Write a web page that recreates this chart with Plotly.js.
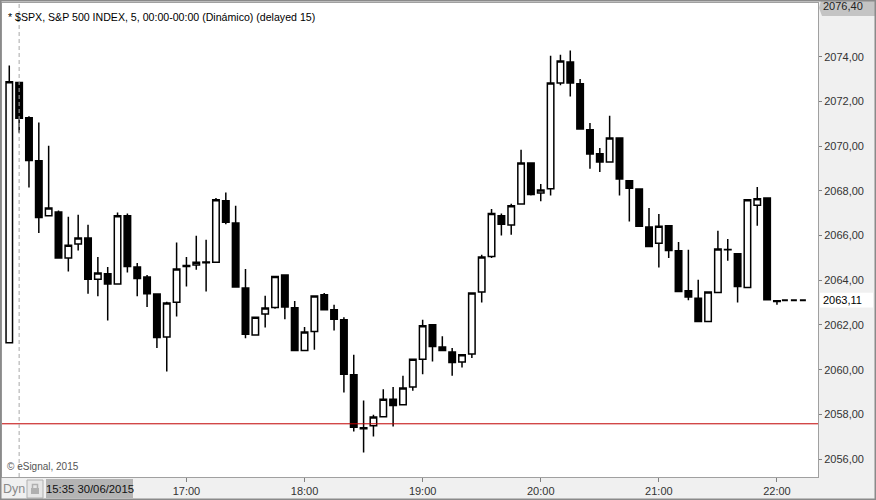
<!DOCTYPE html>
<html>
<head>
<meta charset="utf-8">
<script src="https://cdn.plot.ly/plotly-3.0.1.min.js"></script>
<style>html,body{margin:0;padding:0;background:#f0f0f0;}#chart{width:876px;height:500px;}</style>
</head>
<body>
<div id="chart"></div>
<script>
// ---- data (5-minute bars, 30/06/2015) ----
const day = '2015-06-30 ';
const times = ['15:30','15:35','15:40','15:45','15:50','15:55','16:00','16:05','16:10','16:15',
  '16:20','16:25','16:30','16:35','16:40','16:45','16:50','16:55','17:00','17:05',
  '17:10','17:15','17:20','17:25','17:30','17:35','17:40','17:45','17:50','17:55',
  '18:00','18:05','18:10','18:15','18:20','18:25','18:30','18:35','18:40','18:45',
  '18:50','18:55','19:00','19:05','19:10','19:15','19:20','19:25','19:30','19:35',
  '19:40','19:45','19:50','19:55','20:00','20:05','20:10','20:15','20:20','20:25',
  '20:30','20:35','20:40','20:45','20:50','20:55','21:00','21:05','21:10','21:15',
  '21:20','21:25','21:30','21:35','21:40','21:45','21:50','21:55','22:00'];
const open = [2061.20,2072.84,2071.27,2069.35,2066.89,2067.05,2064.99,2065.62,2065.89,2064.05,
  2064.29,2063.83,2066.89,2064.59,2064.14,2063.38,2061.46,2063.02,2064.66,2064.68,
  2064.82,2064.80,2067.56,2066.56,2063.65,2061.55,2062.49,2062.78,2064.23,2062.77,
  2060.86,2061.71,2063.35,2062.68,2062.23,2059.77,2057.40,2057.49,2057.89,2058.68,
  2058.43,2059.22,2060.47,2062.01,2061.01,2060.79,2060.34,2060.70,2063.47,2065.06,
  2066.89,2066.47,2067.41,2069.24,2067.90,2068.09,2072.82,2073.76,2072.79,2070.73,
  2069.66,2069.29,2070.36,2068.45,2068.08,2066.38,2065.66,2066.44,2065.32,2063.53,
  2063.20,2062.16,2063.45,2065.38,2065.19,2063.68,2067.35,2067.68,2063.08];
const high = [2073.60,2072.88,2071.33,2071.06,2070.02,2067.12,2066.84,2066.93,2066.48,2065.04,
  2064.59,2067.03,2066.99,2064.77,2064.23,2063.40,2063.04,2065.69,2065.04,2065.99,
  2065.81,2067.68,2067.93,2067.33,2064.50,2062.35,2063.31,2064.20,2064.27,2063.07,
  2061.91,2063.31,2063.43,2062.90,2062.35,2060.67,2058.62,2057.98,2059.13,2059.22,
  2059.73,2060.49,2062.23,2062.03,2061.49,2060.97,2060.70,2063.45,2065.14,2067.19,
  2066.99,2067.42,2069.84,2069.26,2068.30,2074.04,2074.09,2074.27,2073.00,2071.03,
  2069.92,2071.36,2070.38,2068.47,2068.10,2067.23,2066.96,2066.46,2065.71,2065.36,
  2064.02,2063.47,2066.21,2065.84,2065.21,2067.60,2068.17,2067.68,2063.08];
const low = [2061.20,2070.60,2068.15,2066.11,2066.85,2064.97,2064.39,2065.33,2063.40,2063.28,
  2062.20,2063.80,2064.35,2063.28,2062.80,2060.97,2059.92,2062.38,2063.72,2064.47,
  2063.50,2064.78,2066.51,2063.68,2061.41,2061.55,2061.89,2062.72,2062.26,2060.84,
  2060.84,2060.89,2062.65,2061.75,2058.98,2057.23,2056.30,2057.01,2057.87,2057.46,
  2058.41,2059.06,2059.80,2060.37,2060.84,2059.73,2060.10,2060.52,2063.01,2064.99,
  2066.00,2066.04,2067.39,2067.79,2067.53,2067.79,2072.72,2072.22,2070.75,2068.99,
  2068.84,2069.27,2067.79,2066.63,2066.38,2065.49,2064.57,2064.99,2063.48,2063.10,
  2062.14,2062.14,2063.43,2064.87,2063.01,2063.66,2066.44,2063.13,2062.90];
const close = [2072.88,2071.24,2069.36,2066.81,2067.23,2065.00,2065.57,2065.89,2064.05,2064.32,
  2063.83,2066.89,2064.62,2064.08,2063.40,2061.44,2062.98,2064.50,2064.62,2064.80,
  2064.78,2067.60,2066.59,2063.70,2061.59,2062.35,2062.76,2064.17,2062.80,2060.86,
  2061.68,2063.29,2062.68,2062.26,2059.80,2057.43,2057.36,2057.88,2058.68,2058.40,
  2059.18,2060.47,2061.96,2061.04,2060.86,2060.32,2060.67,2063.43,2065.04,2066.98,
  2066.51,2067.33,2069.24,2067.83,2068.04,2072.82,2073.81,2072.82,2070.77,2069.65,
  2069.29,2070.36,2068.53,2068.12,2066.41,2065.51,2066.41,2065.33,2063.50,2063.25,
  2062.16,2063.47,2065.40,2065.36,2063.72,2067.60,2067.65,2063.13,2063.05];
const yTickVals = [2056,2058,2060,2062,2064,2066,2068,2070,2072,2074];
const yTickText = ['2056,00','2058,00','2060,00','2062,00','2064,00','2066,00','2068,00','2070,00','2072,00','2074,00'];
const xTickHours = ['17:00','18:00','19:00','20:00','21:00','22:00'];
const lastPrice = 2063.11, lastPriceText = '2063,11';
const axisMax = 2076.40, axisMaxText = '2076,40';
const refLevel = 2057.58;
const cursorTime = '15:35', cursorLabel = '15:35 30/06/2015';
const titleText = '* $SPX, S&P 500 INDEX, 5, 00:00-00:00 (Dinámico) (delayed 15)';

// ---- chart ----
const FONT = 'Liberation Sans, Arial, sans-serif';
const x = times.map(t => day + t);
const W = 876, H = 500, M = {l: 2, r: 58, t: 3, b: 23};
const pw = W - M.l - M.r, ph = H - M.t - M.b;
const px = v => v / pw, py = v => v / ph;   // pixel -> paper fraction

const trace = {
  type: 'candlestick', x: x, open: open, high: high, low: low, close: close,
  increasing: {line: {color: '#000', width: 1.5}, fillcolor: '#ffffff'},
  decreasing: {line: {color: '#000', width: 1.5}, fillcolor: '#000000'},
  whiskerwidth: 0, hoverinfo: 'none', showlegend: false
};

const layout = {
  width: W, height: H, margin: M,
  paper_bgcolor: '#f0f0f0', plot_bgcolor: '#ffffff',
  showlegend: false, boxgap: 0.34, boxgroupgap: 0,
  font: {family: FONT, size: 11, color: '#333'},
  xaxis: {
    type: 'date', range: [day + '15:26:18', day + '22:20:51'],
    rangeslider: {visible: false},
    tickmode: 'array', tickvals: xTickHours.map(t => day + t), ticktext: xTickHours,
    ticks: 'outside', ticklen: 4, tickcolor: '#808080', tickwidth: 1,
    showgrid: false, zeroline: false, showline: true, linecolor: '#a0a0a0', linewidth: 1, mirror: true,
    tickfont: {family: FONT, size: 11, color: '#333'}, fixedrange: true
  },
  yaxis: {
    side: 'right', range: [2055.2, axisMax],
    tickmode: 'array', tickvals: yTickVals, ticktext: yTickText,
    ticks: 'outside', ticklen: 3, tickcolor: '#808080', tickwidth: 1,
    showgrid: false, zeroline: false, showline: true, linecolor: '#a0a0a0', linewidth: 1, mirror: true,
    tickfont: {family: FONT, size: 11, color: '#333'}, fixedrange: true
  },
  shapes: [
    // reference level (red)
    {type: 'line', xref: 'paper', yref: 'y', x0: 0, x1: 1, y0: refLevel, y1: refLevel,
     line: {color: '#c00000', width: 1}},
    // cursor line
    {type: 'line', xref: 'x', yref: 'paper', x0: day + cursorTime, x1: day + cursorTime, y0: 0, y1: 1,
     line: {color: '#a8a8a8', width: 1, dash: '4px,3px'}},
    // last price line
    {type: 'line', xref: 'x', yref: 'y', x0: day + '22:02:30', x1: day + '22:16:00', y0: lastPrice, y1: lastPrice,
     line: {color: '#000', width: 2, dash: '6px,3px'}},
    // top-right axis max box (arrow shaped)
    {type: 'path', xref: 'paper', yref: 'paper', layer: 'above',
     path: 'M ' + (1 + px(3)) + ' ' + (1 + py(3)) + ' L ' + (1 + px(58)) + ' ' + (1 + py(3)) +
           ' L ' + (1 + px(58)) + ' ' + (1 - py(13)) + ' L ' + (1 + px(4)) + ' ' + (1 - py(13)) +
           ' L ' + (1 + px(1)) + ' ' + (1 - py(5)) + ' Z',
     fillcolor: '#c4c4c4', line: {width: 0}},
    // last price box
    {type: 'rect', xref: 'paper', yref: 'y', layer: 'above',
     x0: 1 + px(2), x1: 1 + px(55), y0: lastPrice - 0.33, y1: lastPrice + 0.33,
     fillcolor: '#ffffff', line: {width: 0}},
    // bottom: lock button
    {type: 'rect', xref: 'paper', yref: 'paper', x0: px(25), x1: px(41), y0: -py(21), y1: -py(3),
     fillcolor: '#e6e6e6', line: {color: '#b0b0b0', width: 1}},
    {type: 'rect', xref: 'paper', yref: 'paper', x0: px(29), x1: px(37), y0: -py(17), y1: -py(11),
     fillcolor: '#b0b0b0', line: {width: 0}},
    {type: 'path', xref: 'paper', yref: 'paper',
     path: 'M ' + px(30.5) + ' ' + (-py(11)) + ' L ' + px(30.5) + ' ' + (-py(7.5)) + ' L ' + px(35.5) + ' ' + (-py(7.5)) + ' L ' + px(35.5) + ' ' + (-py(11)),
     line: {color: '#b0b0b0', width: 1.5}},
    // bottom: cursor date box
    {type: 'rect', xref: 'paper', yref: 'paper', x0: px(44), x1: px(131), y0: -py(21), y1: -py(2),
     fillcolor: '#b4b4b4', line: {width: 0}},
    // outer frame
    {type: 'rect', xref: 'paper', yref: 'paper', x0: -px(1.5), x1: 1 + px(57.5), y0: -py(22.5), y1: 1 + py(2.5),
     line: {color: '#8a8a8a', width: 2}, fillcolor: 'rgba(0,0,0,0)'}
  ],
  annotations: [
    {xref: 'paper', yref: 'paper', x: 0, y: 1, xanchor: 'left', yanchor: 'top', xshift: 4, yshift: -6,
     text: titleText, showarrow: false, font: {family: FONT, size: 10.6, color: '#000'}},
    {xref: 'paper', yref: 'paper', x: 0, y: 0, xanchor: 'left', yanchor: 'bottom', xshift: 3, yshift: 3,
     text: '© eSignal, 2015', showarrow: false, font: {family: FONT, size: 10, color: '#555'}},
    {xref: 'paper', yref: 'paper', x: 1, y: 1, xanchor: 'left', yanchor: 'middle', xshift: 3, yshift: -3,
     text: axisMaxText, showarrow: false, font: {family: FONT, size: 11, color: '#222'}},
    {xref: 'paper', yref: 'y', x: 1, y: lastPrice, xanchor: 'left', yanchor: 'middle', xshift: 3,
     text: lastPriceText, showarrow: false, font: {family: FONT, size: 11, color: '#000'}},
    {xref: 'paper', yref: 'paper', x: 0, y: 0, xanchor: 'left', yanchor: 'middle', xshift: -1, yshift: -12,
     text: 'Dyn', showarrow: false, font: {family: FONT, size: 12.5, color: '#8a8a8a'}},
    {xref: 'paper', yref: 'paper', x: px(88), y: 0, xanchor: 'center', yanchor: 'middle', yshift: -12,
     text: cursorLabel, showarrow: false, font: {family: FONT, size: 11.3, color: '#111'}}
  ]
};

Plotly.newPlot('chart', [trace], layout, {staticPlot: true, displayModeBar: false});
</script>
</body>
</html>
